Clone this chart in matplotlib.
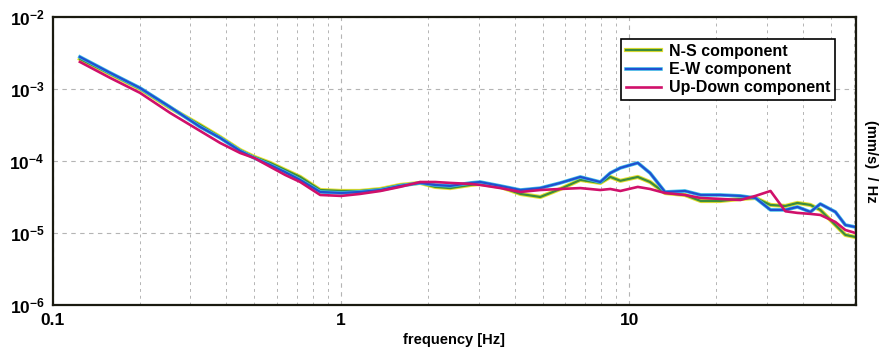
import matplotlib
matplotlib.use('Agg')
import matplotlib.pyplot as plt
import matplotlib.patheffects as pe
from matplotlib.ticker import LogLocator, NullFormatter, FixedLocator, FixedFormatter

plt.rcParams['font.family'] = ['Liberation Sans', 'DejaVu Sans']
plt.rcParams['font.weight'] = 'bold'
plt.rcParams['axes.labelweight'] = 'bold'
plt.rcParams['mathtext.fontset'] = 'custom'
plt.rcParams['mathtext.rm'] = 'Liberation Sans:bold'
plt.rcParams['mathtext.bf'] = 'Liberation Sans:bold'
plt.rcParams['mathtext.default'] = 'bf'

# frequency [Hz]
freq = [0.124, 0.158, 0.2005, 0.255, 0.324, 0.380, 0.446, 0.499, 0.567, 0.639,
        0.721, 0.846, 1.0, 1.16, 1.37, 1.60, 1.88, 2.12, 2.39, 2.81,
        3.04, 3.57, 4.19, 4.91, 5.76, 6.76, 7.93, 8.59, 9.31, 10.7,
        11.8, 13.3, 15.6, 17.7, 20.7, 24.3, 27.4, 30.9, 34.8, 38.3,
        42.5, 46.0, 51.9, 56.2, 60.9]

ns = [2.61e-3, 1.61e-3, 1.0e-3, 5.45e-4, 3.16e-4, 2.15e-4, 1.42e-4, 1.14e-4, 9.4e-5, 7.5e-5,
      6.0e-5, 3.95e-5, 3.83e-5, 3.83e-5, 4.08e-5, 4.64e-5, 4.95e-5, 4.36e-5, 4.2e-5, 4.64e-5,
      4.8e-5, 4.36e-5, 3.48e-5, 3.16e-5, 4.08e-5, 5.45e-5, 4.95e-5, 6.0e-5, 5.3e-5, 6.0e-5,
      5.1e-5, 3.59e-5, 3.37e-5, 2.78e-5, 2.78e-5, 2.97e-5, 3.06e-5, 2.45e-5, 2.37e-5, 2.61e-5,
      2.45e-5, 2.09e-5, 1.29e-5, 9.4e-6, 8.8e-6]

ew = [2.78e-3, 1.67e-3, 1.03e-3, 5.6e-4, 2.97e-4, 2.09e-4, 1.38e-4, 1.10e-4, 8.8e-5, 7.0e-5,
      5.45e-5, 3.71e-5, 3.59e-5, 3.71e-5, 3.95e-5, 4.5e-5, 4.95e-5, 4.64e-5, 4.5e-5, 4.95e-5,
      5.1e-5, 4.5e-5, 3.95e-5, 4.2e-5, 4.95e-5, 6.0e-5, 5.1e-5, 6.8e-5, 8.0e-5, 9.4e-5,
      6.8e-5, 3.71e-5, 3.83e-5, 3.37e-5, 3.37e-5, 3.27e-5, 3.06e-5, 2.09e-5, 2.09e-5, 2.30e-5,
      1.96e-5, 2.53e-5, 1.96e-5, 1.29e-5, 1.21e-5]

ud = [2.37e-3, 1.42e-3, 8.8e-4, 4.64e-4, 2.61e-4, 1.78e-4, 1.29e-4, 1.10e-4, 8.3e-5, 6.4e-5,
      5.1e-5, 3.37e-5, 3.27e-5, 3.48e-5, 3.83e-5, 4.36e-5, 5.1e-5, 5.1e-5, 4.95e-5, 4.8e-5,
      4.64e-5, 4.2e-5, 3.71e-5, 3.95e-5, 4.08e-5, 4.2e-5, 3.95e-5, 4.08e-5, 3.83e-5, 4.36e-5,
      4.08e-5, 3.59e-5, 3.37e-5, 3.06e-5, 2.97e-5, 2.87e-5, 3.27e-5, 3.83e-5, 2.0e-5, 1.9e-5,
      1.84e-5, 1.78e-5, 1.42e-5, 1.10e-5, 1.0e-5]

labels = ['N-S component', 'E-W component', 'Up-Down component']

fig = plt.figure(figsize=(8.83, 3.51), dpi=100)
ax = fig.add_axes([0.060, 0.131, 0.909, 0.821])

ax.plot(freq, ns, color='#3c8c3c', lw=1.6, label=labels[0],
        path_effects=[pe.Stroke(linewidth=3.0, foreground='#e6e030'), pe.Normal()])
ax.plot(freq, ew, color='#2050d0', lw=1.6, label=labels[1],
        path_effects=[pe.Stroke(linewidth=2.6, foreground='#40c0e8'), pe.Normal()])
ax.plot(freq, ud, color='#d0106a', lw=1.9, label=labels[2])

ax.set_xscale('log')
ax.set_yscale('log')
ax.set_xlim(0.1, 61)
ax.set_ylim(1e-6, 1e-2)

ax.xaxis.set_major_locator(FixedLocator([0.1, 1, 10]))
ax.xaxis.set_major_formatter(FixedFormatter(['0.1', '1', '10']))
ax.xaxis.set_minor_locator(LogLocator(base=10, subs=range(2, 10), numticks=20))
ax.xaxis.set_minor_formatter(NullFormatter())
ax.yaxis.set_major_locator(LogLocator(base=10, numticks=10))
ax.yaxis.set_minor_locator(FixedLocator([]))

ax.grid(True, which='major', color='#b4b4b4', linestyle=(0, (4, 4)), lw=0.8)
ax.grid(True, which='minor', axis='x', color='#b4b4b4', linestyle=(0, (3, 4)), lw=0.7)
ax.tick_params(which='both', length=0, labelsize=12.5, pad=6)

for s in ax.spines.values():
    s.set_linewidth(1.6)
    s.set_color('#1a1a10')

ax.set_xlabel('frequency [Hz]', fontsize=10.5, labelpad=3)
ax.yaxis.set_label_position('right')
ax.set_ylabel('(mm/s)  / Hz', fontsize=10.5, rotation=270, labelpad=16)

leg = ax.legend(loc='upper right', bbox_to_anchor=(0.984, 0.95), fontsize=11.5,
                fancybox=False, framealpha=1, edgecolor='black',
                handlelength=2.2, borderpad=0.3, labelspacing=0.2, handletextpad=0.5)
leg.get_frame().set_linewidth(1.2)

fig.savefig('out.png', dpi=100, facecolor='white')
